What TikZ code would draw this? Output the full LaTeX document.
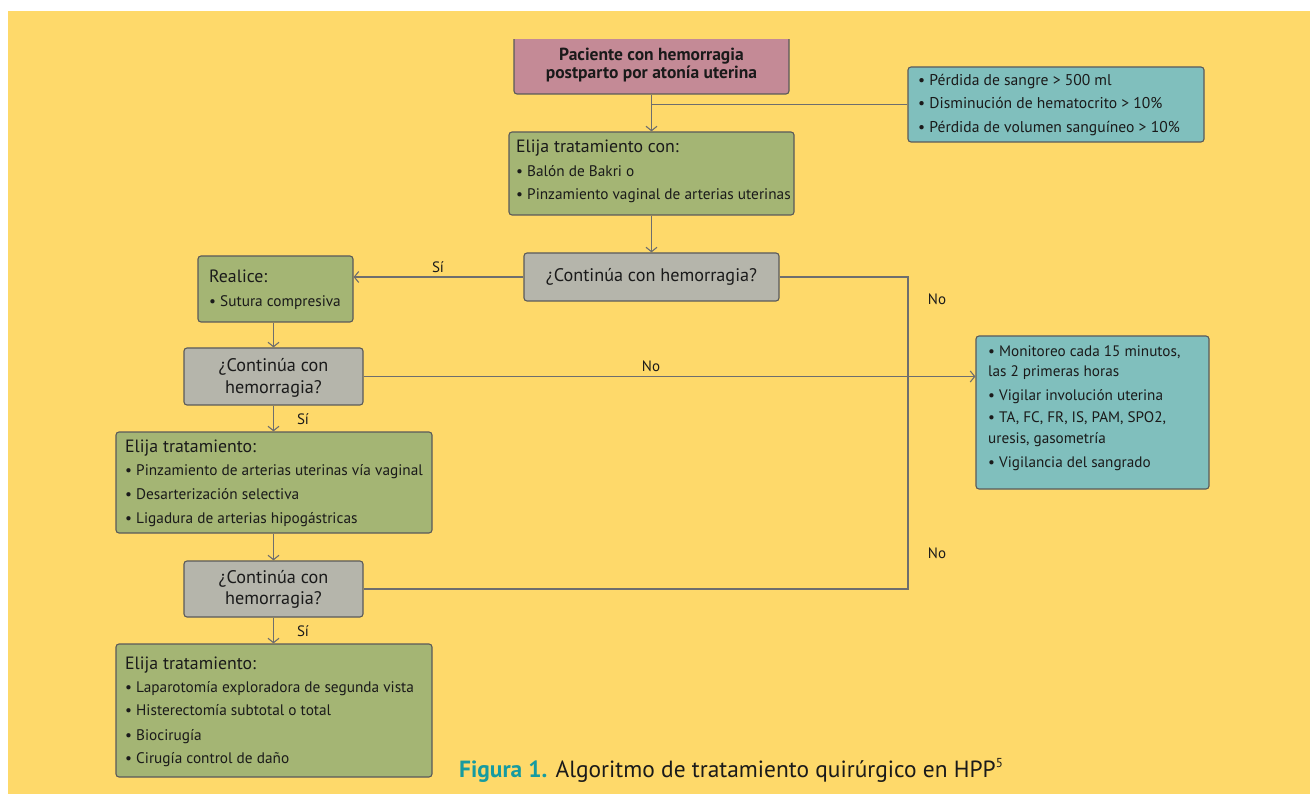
\documentclass[tikz,border=0pt]{standalone}
\usepackage{fontspec}
\setmainfont{PT Sans}
\usetikzlibrary{arrows.meta}
\definecolor{bgyellow}{RGB}{254,217,106}
\definecolor{pinkc}{RGB}{196,138,150}
\definecolor{greenc}{RGB}{164,181,116}
\definecolor{grayc}{RGB}{181,181,171}
\definecolor{tealc}{RGB}{128,191,189}
\definecolor{boxline}{RGB}{90,90,90}
\definecolor{conn}{RGB}{110,110,110}
\definecolor{txt}{RGB}{26,26,26}
\definecolor{capteal}{RGB}{22,155,160}
\tikzset{
  box/.style={draw=boxline, line width=1.1pt, rounded corners=3pt, inner sep=0pt},
  tx/.style={inner sep=0pt, anchor=base west, text=txt},
  txc/.style={inner sep=0pt, anchor=base, text=txt},
  fbody/.style={font=\fontsize{15.3}{18}\selectfont},
  ftitle/.style={font=\fontsize{17.8}{20}\selectfont},
  fq/.style={font=\fontsize{18.2}{21}\selectfont},
  fsmall/.style={font=\fontsize{15.6}{18}\selectfont},
  fteal/.style={font=\fontsize{15.2}{18}\selectfont},
  lbl/.style={inner sep=0pt, anchor=center, text=txt, font=\fontsize{15}{18}\selectfont},
  conline/.style={draw=conn, line width=1.2pt},
  arr/.style={conline, -{Straight Barb[length=4.5pt,width=11pt,line width=1.1pt]}}
}
\begin{document}
\begin{tikzpicture}[x=1pt,y=-1pt]
\useasboundingbox (0,0) rectangle (1310,794);
\fill[white] (0,0) rectangle (1310,794);
\fill[bgyellow] (8,11) rectangle (1310,794);

% boxes
\begin{scope}
\clip (0,40) rectangle (1310,794);
\node[box, fill=pinkc, minimum width=275pt, minimum height=64pt] (start) at (651.5,62) {};
\end{scope}
\node[box, fill=tealc, minimum width=296pt, minimum height=75pt] (crit) at (1056,104.5) {};
\node[box, fill=greenc, minimum width=285pt, minimum height=83pt] (green1) at (651.5,173.5) {};
\node[box, fill=grayc, minimum width=255pt, minimum height=48pt] (q1) at (651.5,277) {};
\node[box, fill=greenc, minimum width=155pt, minimum height=66pt] (realice) at (275.5,289) {};
\node[box, fill=grayc, minimum width=179pt, minimum height=57pt] (q2) at (273.5,376.5) {};
\node[box, fill=tealc, minimum width=233pt, minimum height=153pt] (monitor) at (1092.5,412.5) {};
\node[box, fill=greenc, minimum width=316pt, minimum height=101pt] (green2) at (274,482.5) {};
\node[box, fill=grayc, minimum width=179pt, minimum height=56pt] (q3) at (273.5,589) {};
\node[box, fill=greenc, minimum width=316pt, minimum height=133pt] (green3) at (274,710.5) {};

% texts
\node[txc, font=\fontsize{17.5}{18}\selectfont\bfseries] (st1) at (651.5,61) {Paciente con hemorragia};
\node[txc, font=\fontsize{17.5}{18}\selectfont\bfseries] (st2) at (651.5,79) {postparto por atonía uterina};

\node[tx, fsmall] (c1) at (918,86) {• Pérdida de sangre > 500 ml};
\node[tx, fsmall] (c2) at (918,109) {• Disminución de hematocrito > 10\%};
\node[tx, fsmall] (c3) at (918,133) {• Pérdida de volumen sanguíneo > 10\%};

\node[tx, ftitle] (g1t) at (516,153) {Elija tratamiento con:};
\node[tx, fbody] (g1a) at (516,177) {• Balón de Bakri o};
\node[tx, fbody] (g1b) at (516,200) {• Pinzamiento vaginal de arterias uterinas};

\node[txc, fq] (q1t) at (651.5,281.5) {¿Continúa con hemorragia?};

\node[tx, ftitle] (rt) at (209,283) {Realice:};
\node[tx, fbody] (ra) at (209,307) {• Sutura compresiva};

\node[txc, fq] (q2a) at (273.5,372) {¿Continúa con};
\node[txc, fq] (q2b) at (273.5,393) {hemorragia?};

\node[tx, fteal] (m1) at (988,357) {• Monitoreo cada 15 minutos,};
\node[tx, fteal] (m2) at (988,377) {las 2 primeras horas};
\node[tx, fteal] (m3) at (988,400) {• Vigilar involución uterina};
\node[tx, fteal] (m4) at (988,422) {• TA, FC, FR, IS, PAM, SPO2,};
\node[tx, fteal] (m5) at (988,443) {uresis, gasometría};
\node[tx, fteal] (m6) at (988,467) {• Vigilancia del sangrado};

\node[tx, ftitle] (g2t) at (125,452) {Elija tratamiento:};
\node[tx, fbody] (g2a) at (125,475) {• Pinzamiento de arterias uterinas vía vaginal};
\node[tx, fbody] (g2b) at (125,499) {• Desarterización selectiva};
\node[tx, fbody] (g2c) at (125,523) {• Ligadura de arterias hipogástricas};

\node[txc, fq] (q3a) at (273.5,583) {¿Continúa con};
\node[txc, fq] (q3b) at (273.5,604) {hemorragia?};

\node[tx, ftitle] (g3t) at (125,669) {Elija tratamiento:};
\node[tx, fbody] (g3a) at (125,692) {• Laparotomía exploradora de segunda vista};
\node[tx, fbody] (g3b) at (125,715) {• Histerectomía subtotal o total};
\node[tx, fbody] (g3c) at (125,740) {• Biocirugía};
\node[tx, fbody] (g3d) at (125,763) {• Cirugía control de daño};

% connectors
\draw[arr] (start.south) -- (green1.north);
\draw[conline] (crit.west) -- (crit.west -| start.south);
\draw[arr] (green1.south) -- (q1.north);
\draw[arr] (q1.west) -- (q1.west -| realice.east);
\draw[arr] (q2.north |- realice.south) -- (q2.north);
\draw[arr] (q2.east) -- (q2.east -| monitor.west);
\draw[arr] (q2.south) -- (q2.south |- green2.north);
\draw[arr] (q3.north |- green2.south) -- (q3.north);
\draw[arr] (q3.south) -- (q3.south |- green3.north);
\coordinate (railtop) at (908,277);
\coordinate (railbot) at (908,589);
\draw[conline] (q1.east) -- (railtop) -- (railbot) -- (q3.east);

% labels
\node[lbl] (l1) at (438,267) {Sí};
\node[lbl] (l2) at (651,366) {No};
\node[lbl] (l3) at (303,419) {Sí};
\node[lbl] (l4) at (303,631) {Sí};
\node[lbl] (l5) at (937,299) {No};
\node[lbl] (l6) at (937,553) {No};

% caption
\node[tx, font=\fontsize{23.4}{26}\selectfont] (cap) at (459,777) {\textcolor{capteal}{\bfseries Figura 1.} Algoritmo de tratamiento quirúrgico en HPP\textsuperscript{\fontsize{13}{13}\selectfont 5}};
\end{tikzpicture}
\end{document}
